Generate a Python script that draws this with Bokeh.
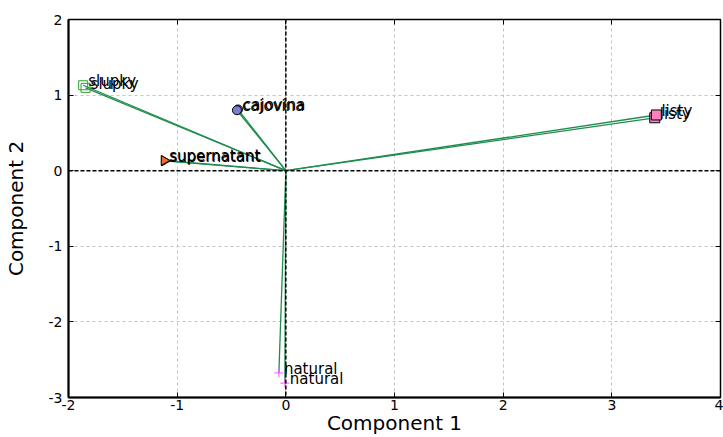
from bokeh.plotting import figure
from bokeh.models import ColumnDataSource, FixedTicker, LinearAxis, Span, Range1d
from bokeh.core.properties import value
from bokeh.embed import file_html
from bokeh.resources import INLINE

# Loadings of the variables on components 1 and 2 (two overlaid solutions)
names = ["slupky", "cajovina", "supernatant", "listy", "natural"]
comp1_a = [-1.865, -0.45, -1.12, 3.41, -0.064]
comp2_a = [1.13, 0.80, 0.135, 0.737, -2.675]
comp1_b = [-1.843, -0.44, -1.115, 3.395, -0.009]
comp2_b = [1.096, 0.81, 0.13, 0.70, -2.81]

x_ticks = [-2, -1, 0, 1, 2, 3, 4]
y_ticks = [-3, -2, -1, 0, 1, 2]

FONT = "DejaVu Sans"
LINE_GREEN = "#1e8c4e"

p = figure(width=723, height=437, output_backend="svg", toolbar_location=None,
           x_range=Range1d(-2, 4), y_range=Range1d(-3, 2),
           min_border_left=68, min_border_right=3, min_border_top=19,
           min_border_bottom=39)
p.outline_line_color = "black"
p.outline_line_width = 1.5

# grid
for g in (p.xgrid, p.ygrid):
    g.grid_line_color = "#c4c4c4"
    g.grid_line_dash = "3 3"
    g.grid_line_width = 1
p.xgrid.ticker = FixedTicker(ticks=x_ticks)
p.ygrid.ticker = FixedTicker(ticks=y_ticks)

# axes (plain hyphen for negative numbers)
p.xaxis.ticker = FixedTicker(ticks=x_ticks)
p.yaxis.ticker = FixedTicker(ticks=y_ticks)
p.xaxis.major_label_overrides = {t: str(t) for t in x_ticks}
p.yaxis.major_label_overrides = {t: str(t) for t in y_ticks}
p.xaxis.axis_label = "Component 1"
p.yaxis.axis_label = "Component 2"
for ax in (p.xaxis[0], p.yaxis[0]):
    ax.axis_line_width = 2
    ax.axis_line_color = "black"
    ax.major_tick_in = 5
    ax.major_tick_out = 0
    ax.minor_tick_line_color = None
    ax.major_tick_line_color = "black"
    ax.major_label_text_font = FONT
    ax.major_label_text_font_size = "14px"
    ax.major_label_text_color = "black"
    ax.axis_label_text_font = FONT
    ax.axis_label_text_font_size = "20px"
    ax.axis_label_text_font_style = "normal"
    ax.axis_label_text_color = "black"
p.xaxis.major_label_standoff = 2
p.xaxis.axis_label_standoff = -2
p.yaxis.major_label_standoff = 6
p.yaxis.axis_label_standoff = 18

# inward ticks on the top and right edges of the frame
top = LinearAxis(ticker=FixedTicker(ticks=x_ticks),
                 major_label_overrides={t: "" for t in x_ticks},
                 major_label_text_color=None, major_label_text_font_size="1px",
                 major_tick_in=5, major_tick_out=0, minor_tick_line_color=None,
                 axis_line_color="black", major_label_standoff=0)
right = LinearAxis(ticker=FixedTicker(ticks=y_ticks),
                   major_label_overrides={t: "" for t in y_ticks},
                   major_label_text_color=None, major_label_text_font_size="1px",
                   major_tick_in=5, major_tick_out=0, minor_tick_line_color=None,
                   axis_line_color="black", major_label_standoff=0)
p.add_layout(top, "above")
p.add_layout(right, "right")

# zero lines
p.add_layout(Span(location=0, dimension="width", line_color="black",
                  line_dash="4 2", line_width=1.5))
p.add_layout(Span(location=0, dimension="height", line_color="black",
                  line_dash="4 2", line_width=1.5))

# vectors from the origin
zeros = [0] * len(names)
src_a = ColumnDataSource(dict(x0=zeros, y0=zeros, x=comp1_a, y=comp2_a, name=names))
src_b = ColumnDataSource(dict(x0=zeros, y0=zeros, x=comp1_b, y=comp2_b, name=names))
p.segment("x0", "y0", "x", "y", source=src_a, line_color=LINE_GREEN, line_width=1.3)
p.segment("x0", "y0", "x", "y", source=src_b, line_color=LINE_GREEN, line_width=1.3)

# markers per variable
styles = {
    "slupky": dict(marker="square", fill_color=None, line_color="#2ca02c", size=9),
    "cajovina": dict(marker="circle", fill_color="#7b7fcf", line_color="black", size=9),
    "supernatant": dict(marker="triangle", fill_color="#f26b2a", line_color="black",
                        size=10, angle=-1.5708),
    "listy": dict(marker="square", fill_color="#ff80c0", line_color="black", size=10),
    "natural": dict(marker="cross", fill_color=None, line_color="#ff55ff", size=9),
}
for i, nm in enumerate(names):
    st = dict(styles[nm])
    for xs, ys in ((comp1_b, comp2_b), (comp1_a, comp2_a)):
        p.scatter([xs[i]], [ys[i]], line_width=1, **st)

# variable labels
for src in (src_a, src_b):
    p.text("x", "y", text="name", source=src, x_offset=5, y_offset=-4,
           text_font=value(FONT), text_font_size="15px", text_color="black",
           text_baseline="alphabetic", text_align="left")

open("out.html", "w").write(file_html(p, INLINE))
